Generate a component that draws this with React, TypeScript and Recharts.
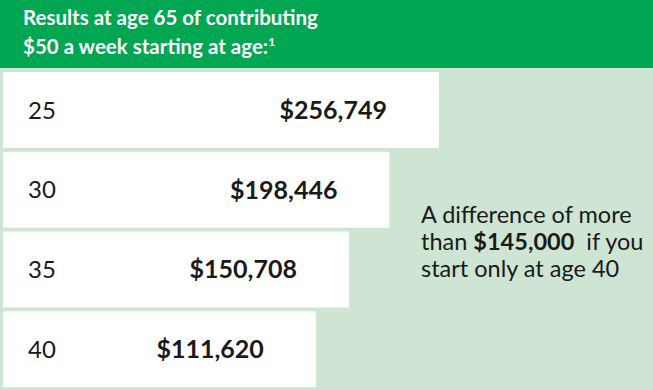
import { BarChart, Bar, XAxis, YAxis, LabelList } from 'recharts'

// starting age -> balance at 65
const ages = ['25', '30', '35', '40']
const balances = [256749, 198446, 150708, 111620]

// bars start at the left edge, not at zero
const AXIS_MIN = -257000
const AXIS_MAX = 509000

const noteLines = ['A difference of more', 'than ', 'start only at age 40']
const noteAmount = '$145,000'

const data = ages.map((age, i) => ({ age, balance: balances[i] }))

const fmt = (v: number) => '$' + Number(v).toLocaleString('en-US')

export default function App() {
  return (
    <div style={{ position: 'relative', width: 653, height: 390, background: '#cee5d4', fontFamily: 'Lato, sans-serif', overflow: 'hidden' }}>
      <style>{'body{margin:0}'}</style>
      <BarChart
        width={653} height={390} data={data} layout="vertical"
        margin={{ top: 70, right: 0, bottom: 1, left: 3 }}
        barCategoryGap={2}
      >
        <XAxis type="number" domain={[AXIS_MIN, AXIS_MAX]} hide allowDataOverflow />
        <YAxis type="category" dataKey="age" hide width={0} />
        <Bar dataKey={(d: any) => [AXIS_MIN, d.balance]} fill="#ffffff" isAnimationActive={false}>
          <LabelList dataKey="age" position="insideLeft" offset={25} fill="#1a1a1a" fontSize={24} />
          <LabelList dataKey="balance" position="insideRight" offset={52} formatter={fmt as any}
            fill="#1a1a1a" fontSize={25} fontWeight={700} />
        </Bar>
      </BarChart>

      {/* header band */}
      <div style={{
        position: 'absolute', left: 0, top: 0, width: 653, height: 68, background: '#00a651',
        color: '#fff', fontSize: 20.5, fontWeight: 700, lineHeight: '29px', padding: '3px 0 0 23px', boxSizing: 'border-box',
      }}>
        Results at age 65 of contributing<br />
        $50 a week starting at age:<span style={{ fontSize: 12, verticalAlign: 'top', lineHeight: '20px' }}>1</span>
      </div>

      {/* note */}
      <div style={{ position: 'absolute', left: 421, top: 201, fontSize: 23.5, lineHeight: '27px', color: '#1a1a1a' }}>
        {noteLines[0]}<br />
        {noteLines[1]}<b>{noteAmount}</b>&nbsp; if you<br />
        {noteLines[2]}
      </div>
    </div>
  )
}
